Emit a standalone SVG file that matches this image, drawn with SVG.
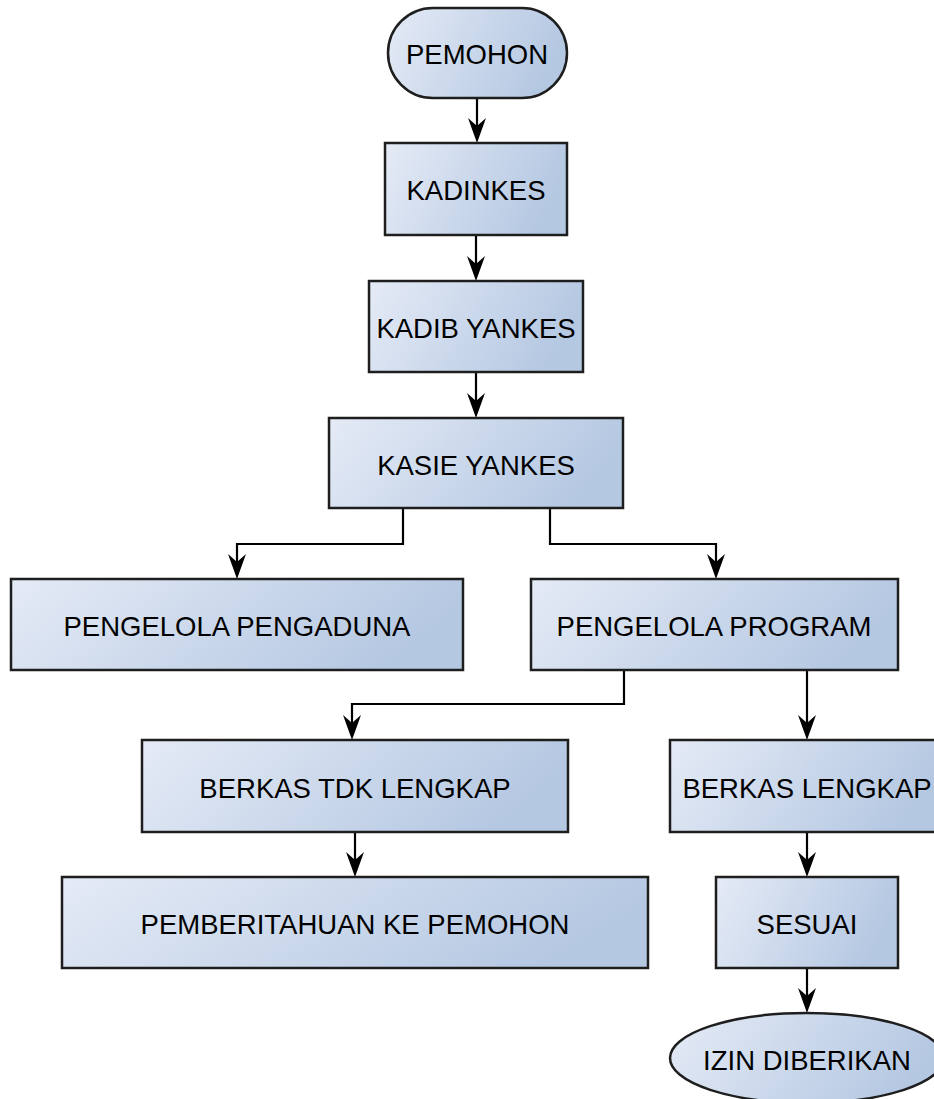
<svg xmlns="http://www.w3.org/2000/svg" width="934" height="1099" viewBox="0 0 934 1099">
<defs>
<linearGradient id="g" x1="0" y1="0" x2="1" y2="0.25">
<stop offset="0" stop-color="#e5ebf6"/>
<stop offset="1" stop-color="#b5c8e2"/>
</linearGradient>
</defs>
<style>
.n{fill:url(#g);stroke:#1e1e1e;stroke-width:2.5}
.t{font-family:"Liberation Sans",Arial,sans-serif;font-size:27.5px;fill:#000;text-anchor:middle;dominant-baseline:central}
.c{fill:none;stroke:#000;stroke-width:2.2}
</style>
<rect width="934" height="1099" fill="#fff"/>
<g id="connectors">
<path class="c" d="M477,98 V135"/>
<path class="c" d="M476,235 V273"/>
<path class="c" d="M476,372 V410"/>
<path class="c" d="M403,508 V544 H237 V571"/>
<path class="c" d="M550,508 V544 H716 V571"/>
<path class="c" d="M624,670 V704 H352 V732"/>
<path class="c" d="M807,670 V732"/>
<path class="c" d="M355,832 V869"/>
<path class="c" d="M807,832 V869"/>
<path class="c" d="M807,968 V1005"/>
</g>
<g id="arrowheads" fill="#000">
<path d="M468,118 L477,126 L486,118 L477,143 z"/>
<path d="M467,256 L476,264 L485,256 L476,281 z"/>
<path d="M467,393 L476,401 L485,393 L476,418 z"/>
<path d="M228,554 L237,562 L246,554 L237,579 z"/>
<path d="M707,554 L716,562 L725,554 L716,579 z"/>
<path d="M343,715 L352,723 L361,715 L352,740 z"/>
<path d="M798,715 L807,723 L816,715 L807,740 z"/>
<path d="M346,852 L355,860 L364,852 L355,877 z"/>
<path d="M798,852 L807,860 L816,852 L807,877 z"/>
<path d="M798,988 L807,996 L816,988 L807,1013 z"/>
</g>
<g id="pemohon"><rect class="n" x="388" y="8" width="179" height="90" rx="45" ry="45"/><text class="t" x="477" y="54">PEMOHON</text></g>
<g id="kadinkes"><rect class="n" x="385" y="143" width="182" height="92"/><text class="t" x="476" y="190">KADINKES</text></g>
<g id="kadib"><rect class="n" x="369" y="281" width="214" height="91"/><text class="t" x="476" y="328">KADIB YANKES</text></g>
<g id="kasie"><rect class="n" x="329" y="418" width="294" height="90"/><text class="t" x="476" y="465">KASIE YANKES</text></g>
<g id="pengaduna"><rect class="n" x="11" y="579" width="452" height="91"/><text class="t" x="237" y="626">PENGELOLA PENGADUNA</text></g>
<g id="program"><rect class="n" x="531" y="579" width="367" height="91"/><text class="t" x="714" y="626">PENGELOLA PROGRAM</text></g>
<g id="tdk"><rect class="n" x="142" y="740" width="426" height="92"/><text class="t" x="355" y="788">BERKAS TDK LENGKAP</text></g>
<g id="lengkap"><rect class="n" x="670" y="740" width="274" height="92"/><text class="t" x="807" y="788">BERKAS LENGKAP</text></g>
<g id="pemberitahuan"><rect class="n" x="62" y="877" width="586" height="91"/><text class="t" x="355" y="924">PEMBERITAHUAN KE PEMOHON</text></g>
<g id="sesuai"><rect class="n" x="716" y="877" width="182" height="91"/><text class="t" x="807" y="924">SESUAI</text></g>
<g id="izin"><ellipse class="n" cx="807" cy="1058" rx="137" ry="45"/><text class="t" x="807" y="1060">IZIN DIBERIKAN</text></g>
</svg>
